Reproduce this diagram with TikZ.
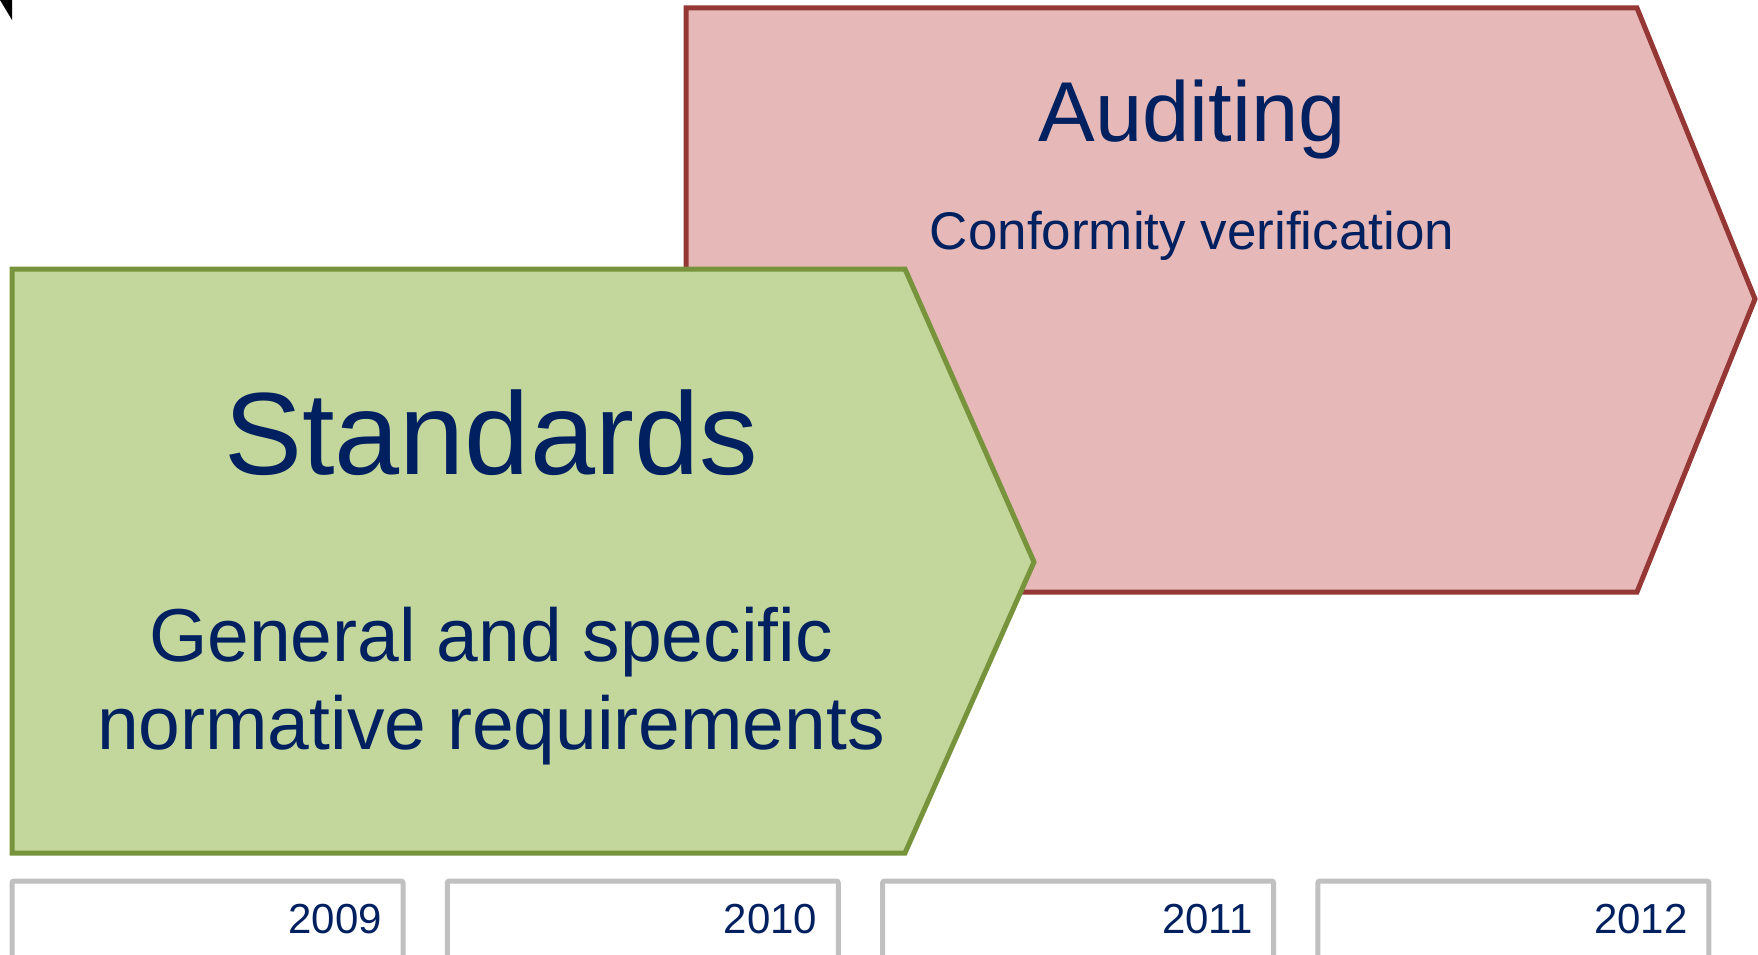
\documentclass[tikz,border=0pt]{standalone}
\usepackage{fontspec}
\setmainfont{Liberation Sans}
\definecolor{navy}{RGB}{0,32,96}
\definecolor{gfill}{RGB}{195,214,155}
\definecolor{gline}{RGB}{119,147,60}
\definecolor{rfill}{RGB}{230,185,184}
\definecolor{rline}{RGB}{149,55,53}
\definecolor{boxline}{RGB}{192,192,192}
\begin{document}
\begin{tikzpicture}[x=1pt,y=-1pt,
  arrowshape/.style={line width=5pt,line join=miter},
  yearbox/.style={draw=boxline,line width=5pt,fill=white,rounded corners=2pt},
  yeartext/.style={anchor=base east,text=navy,font=\fontsize{42}{46}\selectfont,inner sep=0pt},
  lbl/.style={anchor=base,text=navy,inner sep=0pt}]
\useasboundingbox (0,0) rectangle (1758,955);
\begin{scope}
\clip (0,0) rectangle (1758,955);
% cursor fragment
\fill[black] (0,0) -- (12,0) -- (12,20) -- cycle;
% red arrow
\draw[arrowshape,draw=rline,fill=rfill] (686,8) -- (1637,8) -- (1755,299) -- (1637,592) -- (686,592) -- cycle;
% green arrow
\draw[arrowshape,draw=gline,fill=gfill] (12,269) -- (905,269) -- (1034,562) -- (905,853) -- (12,853) -- cycle;
% year boxes
\foreach \i/\yr in {0/2009,1/2010,2/2011,3/2012}{
  \draw[yearbox] ({12+435.3*\i},881) rectangle ({403+435.3*\i},975);
  \node[yeartext] (y\yr) at ({382+435.3*\i},933) {\yr};
}
\end{scope}
\node[lbl,font=\fontsize{117}{122}\selectfont] (std) at (491,474) {Standards};
\node[lbl,font=\fontsize{75}{88}\selectfont] (gen1) at (491,661) {General and specific};
\node[lbl,font=\fontsize{75}{88}\selectfont] (gen2) at (491,749) {normative requirements};
\node[lbl,font=\fontsize{85}{90}\selectfont] (aud) at (1192,142) {Auditing};
\node[lbl,font=\fontsize{53}{58}\selectfont] (conf) at (1192,249) {Conformity verification};
\end{tikzpicture}
\end{document}
